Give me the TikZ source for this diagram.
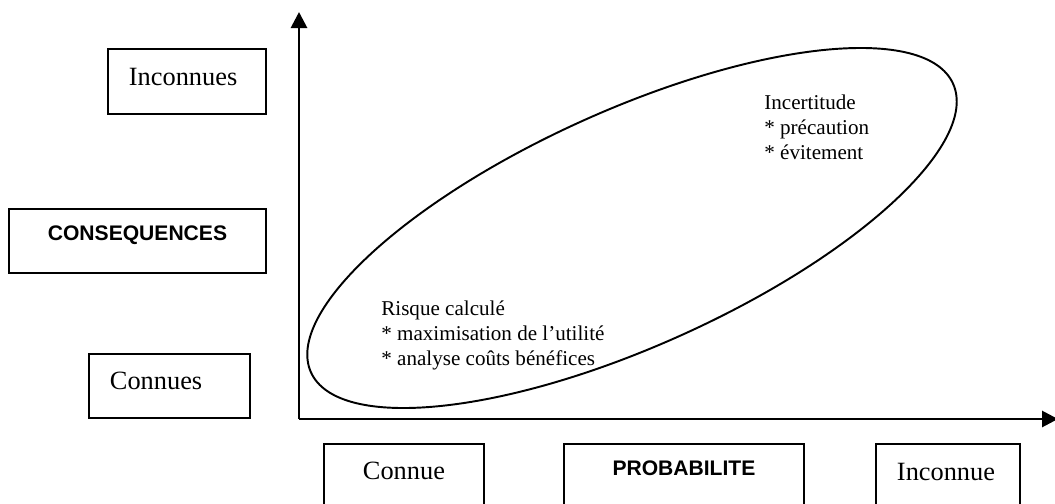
\documentclass[tikz,border=0pt]{standalone}
\usepackage{fontspec}
\setmainfont{Liberation Serif}
\setsansfont{Liberation Sans}
\usepackage{tikz}
\usetikzlibrary{arrows.meta,positioning,shapes.geometric}

\begin{document}
\begin{tikzpicture}[
    labbox/.style={draw, line width=1.1pt, anchor=north west, inner ysep=0pt, inner xsep=0pt, font=\fontsize{15}{18}\selectfont},
    headbox/.style={draw, line width=1.1pt, anchor=north west, inner ysep=0pt, inner xsep=0pt, font=\sffamily\bfseries\fontsize{12}{14}\selectfont},
    leftbox/.style={labbox, align=left, inner xsep=0.42cm},
    zonetext/.style={align=left, anchor=west, inner sep=0pt, font=\fontsize{12}{14.2}\selectfont},
    axis/.style={line width=1.6pt, -{Triangle[length=0.32cm, width=0.32cm]}}
]
\clip (0,0) rectangle (21.1,10.06);
% axes
\coordinate (origin) at (5.98,1.68);
\coordinate (ytop) at (5.98,9.82);
\coordinate (xend) at (21.16,1.68);
\draw[axis] (origin) -- (ytop);
\draw[axis] (origin) -- (xend);
% consequences
\node[leftbox, text width=2.32cm, text height=0.74cm, text depth=0.56cm] (inconnues) at (2.14,9.10) {Inconnues};
\node[headbox, minimum width=5.14cm, text height=0.64cm, text depth=0.64cm] (consequences) at (0.16,5.90) {CONSEQUENCES};
\node[leftbox, text width=2.38cm, text height=0.72cm, text depth=0.56cm] (connues) at (1.76,3.00) {Connues};
% probabilite
\node[labbox, minimum width=3.20cm, text height=0.72cm, text depth=0.88cm] (connue) at (6.46,1.20) {Connue};
\node[headbox, minimum width=4.80cm, text height=0.64cm, text depth=0.96cm] (probabilite) at (11.26,1.20) {PROBABILITE};
\node[leftbox, text width=2.04cm, text height=0.74cm, text depth=0.86cm] (inconnue) at (17.50,1.20) {Inconnue};
% zone
\node[draw, ellipse, line width=1.1pt, inner sep=0pt, minimum width=14.08cm, minimum height=4.72cm, rotate=24.2] (zone) at (12.64,5.50) {};
\node[zonetext] (incertitude) at (15.28,7.52) {Incertitude\\* précaution\\* évitement};
\node[zonetext] (risque) at (7.62,3.36) {Risque calculé\\* maximisation de l’utilité\\* analyse coûts bénéfices};
\end{tikzpicture}
\end{document}
